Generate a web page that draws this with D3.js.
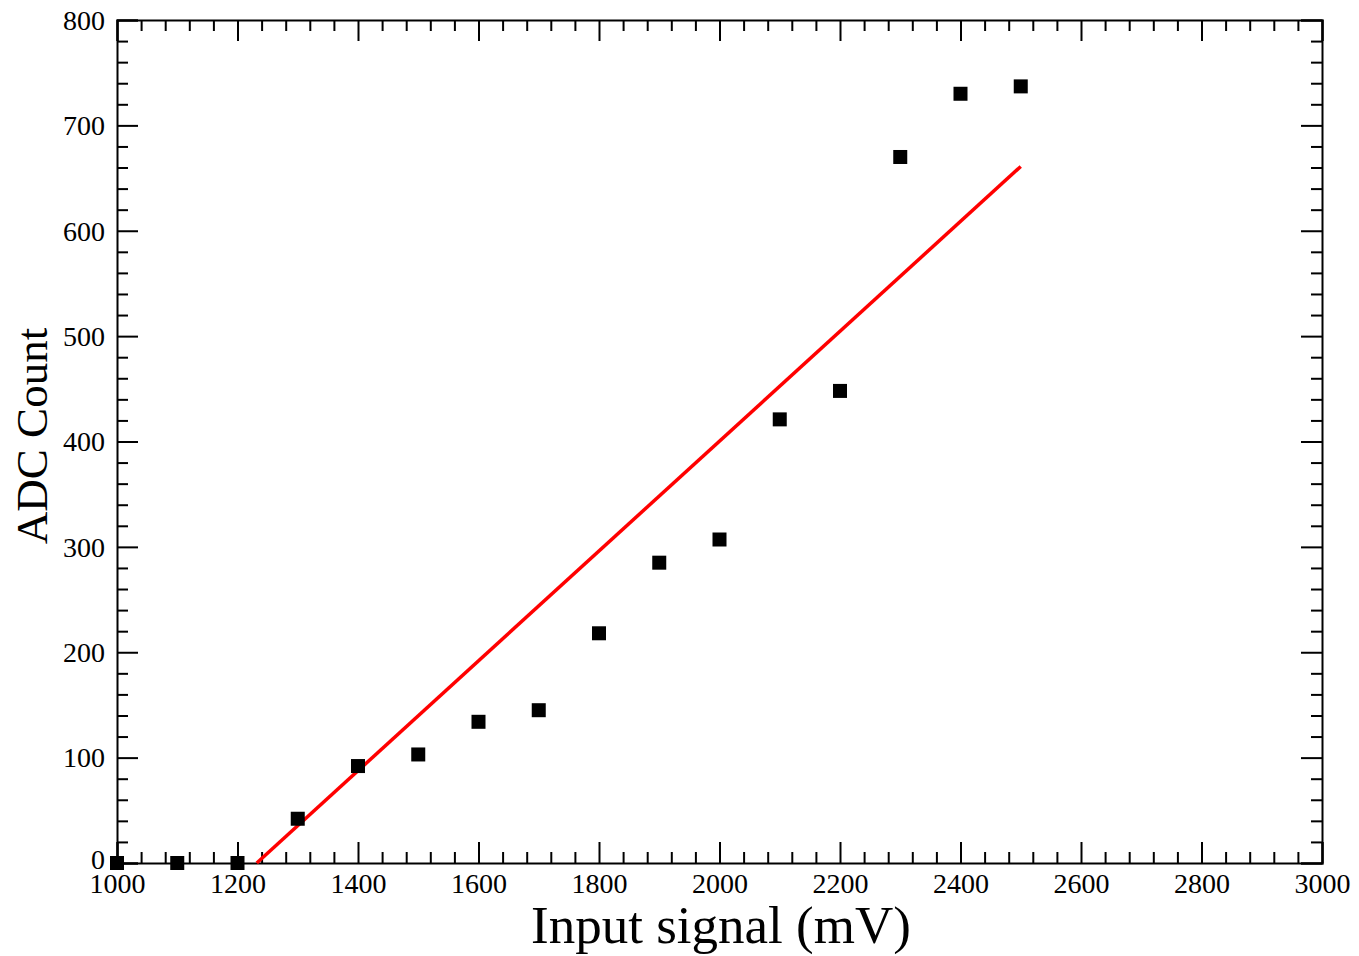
<!DOCTYPE html>
<html>
<head>
<meta charset="utf-8">
<script src="https://cdn.jsdelivr.net/npm/d3@7"></script>
<style>
  body { margin: 0; background: #fff; }
  svg text { font-family: "Liberation Serif", "Times New Roman", serif; fill: #000; }
  .axis path, .axis line { stroke: #000; stroke-width: 2px; }
</style>
</head>
<body>
<svg id="chart" width="1359" height="956"></svg>
<script>
// measured points
const inputMv = [1000, 1100, 1200, 1300, 1400, 1500, 1600, 1700, 1800, 1900, 2000, 2100, 2200, 2300, 2400, 2500];
const adcCount = [0, 0, 0, 42, 92, 103, 134, 145, 218, 285, 307, 421, 448, 670, 730, 737];

// linear fit, drawn between these two ends
const fitX = [1232, 2500];
const fitY = [0, 661];

const xTicks = [1000, 1200, 1400, 1600, 1800, 2000, 2200, 2400, 2600, 2800, 3000];
const yTicks = [0, 100, 200, 300, 400, 500, 600, 700, 800];

const svg = d3.select("#chart");
const margin = { top: 20, right: 37, bottom: 93, left: 117 };
const width = +svg.attr("width") - margin.left - margin.right;
const height = +svg.attr("height") - margin.top - margin.bottom;

const chart = svg.append("g")
    .attr("transform", `translate(${margin.left},${margin.top})`);

const x = d3.scaleLinear().domain([1000, 3000]).range([0, width]);
const y = d3.scaleLinear().domain([0, 800]).range([height, 0]);

const xMinor = d3.range(1000, 3001, 40).filter(v => !xTicks.includes(v));
const yMinor = d3.range(0, 801, 20).filter(v => !yTicks.includes(v));

// major ticks with labels (bottom, left), ticks point inward
chart.append("g")
    .attr("class", "axis")
    .attr("transform", `translate(0,${height})`)
    .call(d3.axisBottom(x).tickValues(xTicks).tickSize(-21).tickPadding(8).tickFormat(d3.format("d")))
    .call(g => g.selectAll("text").attr("font-size", "28px").attr("dy", "0.95em").attr("y", 3));

chart.append("g")
    .attr("class", "axis")
    .call(d3.axisLeft(y).tickValues(yTicks).tickSize(-21).tickPadding(12).tickFormat(d3.format("d")))
    .call(g => g.selectAll("text").attr("font-size", "28px").attr("dy", d => d === 0 ? "0.2em" : "0.33em"));

// mirrored axes on top and right
chart.append("g")
    .attr("class", "axis")
    .call(d3.axisTop(x).tickValues(xTicks).tickSize(-21).tickFormat(""));

chart.append("g")
    .attr("class", "axis")
    .attr("transform", `translate(${width},0)`)
    .call(d3.axisRight(y).tickValues(yTicks).tickSize(-21).tickFormat(""));

// minor ticks
chart.append("g").attr("class", "axis")
    .attr("transform", `translate(0,${height})`)
    .call(d3.axisBottom(x).tickValues(xMinor).tickSize(-11).tickFormat(""))
    .call(g => g.select(".domain").remove());
chart.append("g").attr("class", "axis")
    .call(d3.axisTop(x).tickValues(xMinor).tickSize(-11).tickFormat(""))
    .call(g => g.select(".domain").remove());
chart.append("g").attr("class", "axis")
    .call(d3.axisLeft(y).tickValues(yMinor).tickSize(-11).tickFormat(""))
    .call(g => g.select(".domain").remove());
chart.append("g").attr("class", "axis")
    .attr("transform", `translate(${width},0)`)
    .call(d3.axisRight(y).tickValues(yMinor).tickSize(-11).tickFormat(""))
    .call(g => g.select(".domain").remove());

// fit line
const line = d3.line().x(d => x(d[0])).y(d => y(d[1]));
chart.append("path")
    .datum(d3.zip(fitX, fitY))
    .attr("fill", "none")
    .attr("stroke", "#ff0000")
    .attr("stroke-width", 3.5)
    .attr("d", line);

// data squares
const sq = 14;
chart.selectAll(".pt")
    .data(d3.zip(inputMv, adcCount))
    .enter()
    .append("rect")
    .attr("class", "pt")
    .attr("x", d => x(d[0]) - sq / 2)
    .attr("y", d => y(d[1]) - sq / 2)
    .attr("width", sq)
    .attr("height", sq)
    .attr("fill", "#000");

// axis titles
svg.append("text")
    .attr("x", 721)
    .attr("y", 943)
    .attr("text-anchor", "middle")
    .attr("font-size", "53px")
    .text("Input signal (mV)");

svg.append("text")
    .attr("transform", `translate(47,${436}) rotate(-90)`)
    .attr("text-anchor", "middle")
    .attr("font-size", "45px")
    .text("ADC Count");
</script>
</body>
</html>
